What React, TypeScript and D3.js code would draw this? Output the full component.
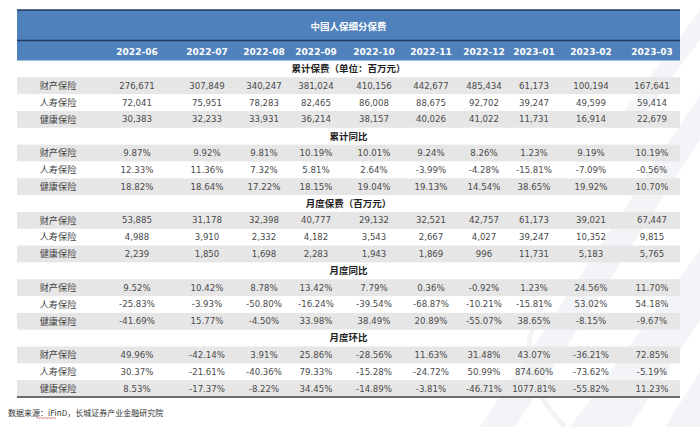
import React from "react";
import * as d3 from "d3";

const months = ["2022-06", "2022-07", "2022-08", "2022-09", "2022-10", "2022-11", "2022-12", "2023-01", "2023-02", "2023-03"];
const categories = ["财产保险", "人寿保险", "健康保险"];
const sectionTitles = ["累计保费（单位：百万元）", "累计同比", "月度保费（百万元）", "月度同比", "月度环比"];
const tableTitle = "中国人保细分保费";
const sourceText = "数据来源：iFinD，长城证券产业金融研究院";

// 累计保费
const cumProperty = [276671, 307849, 340247, 381024, 410156, 442677, 485434, 61173, 100194, 167641];
const cumLife = [72041, 75951, 78283, 82465, 86008, 88675, 92702, 39247, 49599, 59414];
const cumHealth = [30383, 32233, 33931, 36214, 38157, 40026, 41022, 11731, 16914, 22679];
// 累计同比 (%)
const cumYoyProperty = [9.87, 9.92, 9.81, 10.19, 10.01, 9.24, 8.26, 1.23, 9.19, 10.19];
const cumYoyLife = [12.33, 11.36, 7.32, 5.81, 2.64, -3.99, -4.28, -15.81, -7.09, -0.56];
const cumYoyHealth = [18.82, 18.64, 17.22, 18.15, 19.04, 19.13, 14.54, 38.65, 19.92, 10.7];
// 月度保费
const monProperty = [53885, 31178, 32398, 40777, 29132, 32521, 42757, 61173, 39021, 67447];
const monLife = [4988, 3910, 2332, 4182, 3543, 2667, 4027, 39247, 10352, 9815];
const monHealth = [2239, 1850, 1698, 2283, 1943, 1869, 996, 11731, 5183, 5765];
// 月度同比 (%)
const monYoyProperty = [9.52, 10.42, 8.78, 13.42, 7.79, 0.36, -0.92, 1.23, 24.56, 11.7];
const monYoyLife = [-25.83, -3.93, -50.8, -16.24, -39.54, -68.87, -10.21, -15.81, 53.02, 54.18];
const monYoyHealth = [-41.69, 15.77, -4.5, 33.98, 38.49, 20.89, -55.07, 38.65, -8.15, -9.67];
// 月度环比 (%)
const momProperty = [49.96, -42.14, 3.91, 25.86, -28.56, 11.63, 31.48, 43.07, -36.21, 72.85];
const momLife = [30.37, -21.61, -40.36, 79.33, -15.28, -24.72, 50.99, 874.6, -73.62, -5.19];
const momHealth = [8.53, -17.37, -8.22, 34.45, -14.89, -3.81, -46.71, 1077.81, -55.82, 11.23];

const W = 700;
const H = 427;
const tableLeft = 17;
const tableRight = 680;
const titleTop = 10;
const headerTop = 40.5;
const bodyTop = 60.5;
const bodyBottom = 397;
const colCenters = [137, 207, 264, 316, 374, 431, 484, 534, 591, 652];
const labelCenter = 58;

const locale = d3.formatLocale({ decimal: ".", thousands: ",", grouping: [3], currency: ["", ""], minus: "-" });
const fmtInt = locale.format(",");
const fmtPct = (v: number) => locale.format(".2f")(v) + "%";

const sections = [
  { title: sectionTitles[0], rows: [cumProperty, cumLife, cumHealth], fmt: fmtInt },
  { title: sectionTitles[1], rows: [cumYoyProperty, cumYoyLife, cumYoyHealth], fmt: fmtPct },
  { title: sectionTitles[2], rows: [monProperty, monLife, monHealth], fmt: fmtInt },
  { title: sectionTitles[3], rows: [monYoyProperty, monYoyLife, monYoyHealth], fmt: fmtPct },
  { title: sectionTitles[4], rows: [momProperty, momLife, momHealth], fmt: fmtPct },
];

const totalRows = sections.length * 4;

export default function App() {
  const x = d3.scaleOrdinal<string, number>().domain(months).range(colCenters);
  const y = d3.scaleLinear().domain([0, totalRows]).range([bodyTop, bodyBottom]);
  const rowH = y(1) - y(0);
  const numFont = "'DejaVu Sans', Verdana, sans-serif";
  const cjkFont = "'Noto Sans CJK SC', 'Noto Sans', sans-serif";

  const bodyRows: React.ReactNode[] = [];
  sections.forEach((sec, si) => {
    const base = si * 4;
    bodyRows.push(
      <text
        key={`sec-${si}`}
        x={(tableLeft + tableRight) / 2}
        y={y(base) + rowH / 2}
        dy="0.35em"
        textAnchor="middle"
        fontFamily={cjkFont}
        fontWeight="bold"
        fontSize={9.5}
        fill="#222"
      >
        {sec.title}
      </text>
    );
    sec.rows.forEach((vals, ri) => {
      const r = base + 1 + ri;
      const gray = ri !== 1;
      bodyRows.push(
        <g key={`row-${si}-${ri}`}>
          {gray && (
            <rect x={tableLeft} y={y(r)} width={tableRight - tableLeft} height={rowH} fill="#e6e6e6" />
          )}
          <text
            x={labelCenter}
            y={y(r) + rowH / 2}
            dy="0.35em"
            textAnchor="middle"
            fontFamily={cjkFont}
            fontSize={9.2}
            fill="#444"
          >
            {categories[ri]}
          </text>
          {vals.map((v, ci) => (
            <text
              key={ci}
              x={x(months[ci])}
              y={y(r) + rowH / 2}
              dy="0.35em"
              textAnchor="middle"
              fontFamily={numFont}
              fontSize={8.6}
              fill="#4a4a4a"
            >
              {sec.fmt(v)}
            </text>
          ))}
        </g>
      );
    });
  });

  return (
    <div style={{ position: "absolute", left: 0, top: 0, width: W, height: H }}>
      <svg width={W} height={H} viewBox={`0 0 ${W} ${H}`} style={{ display: "block" }}>
        <rect x={0} y={0} width={W} height={H} fill="#ffffff" />
        {/* faint watermark stripes */}
        <g fill="#f3f4f7">
          <polygon points="570,427 630,427 700,320 700,250" />
          <polygon points="665,427 700,427 700,372" />
          <polygon points="480,427 515,427 700,140 700,95" />
          <polygon points="640,120 700,40 700,10 625,110" />
        </g>
        <path d="M 565 427 Q 505 365 545 300" fill="none" stroke="#f2f3f6" strokeWidth={5} />

        {/* title band */}
        <rect x={tableLeft} y={titleTop} width={tableRight - tableLeft} height={bodyTop - titleTop} fill="#4f81bd" />
        <line x1={tableLeft} x2={tableRight} y1={titleTop} y2={titleTop} stroke="#1f3864" strokeWidth={1.5} />
        <line x1={tableLeft} x2={tableRight} y1={headerTop} y2={headerTop} stroke="#1f3864" strokeWidth={1.5} />
        <text
          x={(tableLeft + tableRight) / 2}
          y={(titleTop + headerTop) / 2 + 1}
          dy="0.35em"
          textAnchor="middle"
          fontFamily={cjkFont}
          fontWeight="bold"
          fontSize={9.5}
          fill="#ffffff"
        >
          {tableTitle}
        </text>
        {months.map((m) => (
          <text
            key={m}
            x={x(m)}
            y={(headerTop + bodyTop) / 2 + 1}
            dy="0.35em"
            textAnchor="middle"
            fontFamily={numFont}
            fontWeight="bold"
            fontSize={9}
            fill="#ffffff"
          >
            {m}
          </text>
        ))}

        {bodyRows}

        <line x1={tableLeft} x2={tableRight} y1={bodyBottom} y2={bodyBottom} stroke="#404040" strokeWidth={1.5} />

        <text x={8} y={413} dy="0.35em" fontFamily={cjkFont} fontSize={8} fill="#333">
          {sourceText}
        </text>
        <path d="M 36 418 q 1 -1 2 0 q 1 1 2 0 q 1 -1 2 0 q 1 1 2 0 q 1 -1 2 0 q 1 1 2 0 q 1 -1 2 0 q 1 1 2 0 q 1 -1 2 0 q 1 1 2 0" fill="none" stroke="#e05050" strokeWidth={0.7} />
      </svg>
    </div>
  );
}
